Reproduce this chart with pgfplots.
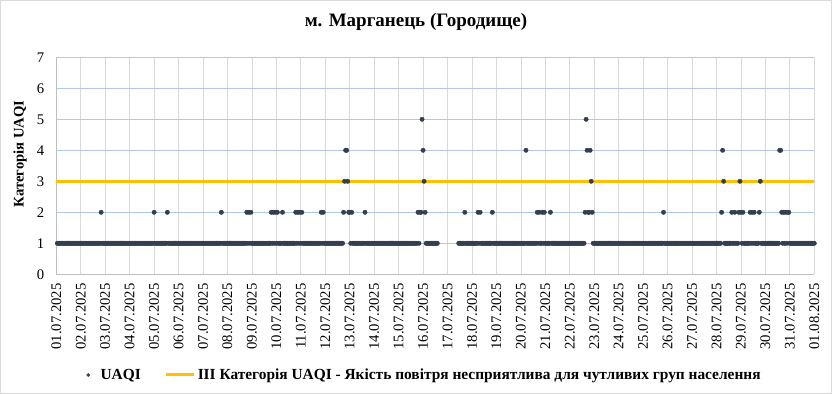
\documentclass[border=0pt]{standalone}
\usepackage{pgfplots}
\pgfplotsset{compat=1.18}
\usepackage{fontspec}
\setmainfont{Liberation Serif}
\definecolor{dotc}{HTML}{333F50}
\definecolor{linec}{HTML}{FFC000}
\definecolor{vgrid}{HTML}{D9D9D9}
\definecolor{hgrid}{HTML}{B4C7E7}
\definecolor{axc}{HTML}{BFBFBF}
\definecolor{framec}{HTML}{D9D9D9}
\newcommand\fs{\fontsize{14.67bp}{17bp}\selectfont}
\begin{document}
\begin{tikzpicture}
\path[use as bounding box, fill=white] (0,0) rectangle (832bp,394bp);
\draw[framec, line width=1bp] (0.5bp,0.5bp) rectangle (831.5bp,393.5bp);
\begin{axis}[
  at={(56.3bp,119.7bp)}, anchor=south west,
  scale only axis, width=758bp, height=217bp,
  xmin=0, xmax=744, ymin=0, ymax=7,
  clip=false,
  axis x line=bottom, axis y line=left,
  axis line style={axc, line width=0.75bp, -},
  xtick={0,24,...,744},
  xticklabels={01.07.2025,02.07.2025,03.07.2025,04.07.2025,05.07.2025,06.07.2025,07.07.2025,08.07.2025,09.07.2025,10.07.2025,11.07.2025,12.07.2025,13.07.2025,14.07.2025,15.07.2025,16.07.2025,17.07.2025,18.07.2025,19.07.2025,20.07.2025,21.07.2025,22.07.2025,23.07.2025,24.07.2025,25.07.2025,26.07.2025,27.07.2025,28.07.2025,29.07.2025,30.07.2025,31.07.2025,01.08.2025},
  ytick={0,1,...,7},
  major tick length=0pt,
  xmajorgrids, ymajorgrids,
  x grid style={vgrid, line width=0.75bp},
  y grid style={hgrid, line width=0.75bp},
  xticklabel style={rotate=90, anchor=east, font=\fs, inner sep=0pt},
  yticklabel style={anchor=east, font=\fs, inner sep=0pt},
  xticklabel shift=9bp,
  yticklabel shift=12bp,
  /pgf/number format/assume math mode=true,
  title={м. Марганець (Городище)},
  title style={at={(0.4745,1.135)}, anchor=center, font=\bfseries\fontsize{19bp}{22bp}\selectfont},
  ylabel={Категорія UAQI},
  ylabel style={at={(-0.0479,0.555)}, anchor=center, font=\bfseries\fs},
  legend style={at={(0.4858,-0.464)}, anchor=center, draw=none, fill=none, font=\bfseries\fontsize{15.4bp}{18bp}\selectfont, legend columns=2, /tikz/every even column/.append style={column sep=22bp}},
  reverse legend,
]
\addplot[linec, line width=3bp, legend image code/.code={\draw[linec, line width=3bp] (0bp,0bp) -- (28bp,0bp);}] coordinates {(0,3)(744,3)};
\addlegendentry{III Категорія UAQI - Якість повітря несприятлива для чутливих груп населення}
\addplot[only marks, mark=*, mark size=2.2bp, color=dotc, legend image code/.code={\path[draw=none, fill=none] (0bp,0bp) -- (12bp,0bp); \fill[dotc] (1.6bp,0bp) circle (1.6bp);}] coordinates {
(1,1)(2,1)(3,1)(4,1)(5,1)(6,1)(7,1)(8,1)(9,1)(10,1)(11,1)(12,1)(13,1)(14,1)(15,1)(16,1)(17,1)(18,1)(19,1)(20,1)(21,1)(22,1)(23,1)(24,1)
(25,1)(26,1)(27,1)(28,1)(29,1)(30,1)(31,1)(32,1)(33,1)(34,1)(35,1)(36,1)(37,1)(38,1)(39,1)(40,1)(41,1)(42,1)(43,1)(44,2)(45,1)(46,1)(47,1)(48,1)
(49,1)(50,1)(51,1)(52,1)(53,1)(54,1)(55,1)(56,1)(57,1)(58,1)(59,1)(60,1)(61,1)(62,1)(63,1)(64,1)(65,1)(66,1)(67,1)(68,1)(69,1)(70,1)(71,1)(72,1)
(73,1)(74,1)(75,1)(76,1)(77,1)(78,1)(79,1)(80,1)(81,1)(82,1)(83,1)(84,1)(85,1)(86,1)(87,1)(88,1)(89,1)(90,1)(91,1)(92,1)(93,1)(94,1)(95,1)(96,2)
(97,1)(98,1)(99,1)(100,1)(101,1)(102,1)(103,1)(104,1)(105,1)(106,1)(107,1)(108,1)(109,2)(110,1)(111,1)(112,1)(113,1)(114,1)(115,1)(116,1)(117,1)(118,1)(119,1)(120,1)
(121,1)(122,1)(123,1)(124,1)(125,1)(126,1)(127,1)(128,1)(129,1)(130,1)(131,1)(132,1)(133,1)(134,1)(135,1)(136,1)(137,1)(138,1)(139,1)(140,1)(141,1)(142,1)(143,1)(144,1)
(145,1)(146,1)(147,1)(148,1)(149,1)(150,1)(151,1)(152,1)(153,1)(154,1)(155,1)(156,1)(157,1)(158,1)(159,1)(160,1)(161,1)(162,2)(163,1)(164,1)(165,1)(166,1)(167,1)(168,1)
(169,1)(170,1)(171,1)(172,1)(173,1)(174,1)(175,1)(176,1)(177,1)(178,1)(179,1)(180,1)(181,1)(182,1)(183,1)(184,1)(185,1)(186,1)(187,2)(188,1)(189,2)(190,1)(191,2)(192,1)
(193,1)(194,1)(195,1)(196,1)(197,1)(198,1)(199,1)(200,1)(201,1)(202,1)(203,1)(204,1)(205,1)(206,1)(207,1)(208,1)(209,1)(210,1)(211,2)(212,1)(213,2)(214,1)(215,2)(216,1)
(217,2)(218,1)(219,1)(220,1)(221,1)(222,2)(223,1)(224,1)(225,1)(226,1)(227,1)(228,1)(229,1)(230,1)(231,1)(232,1)(233,1)(234,1)(235,2)(236,1)(237,2)(238,1)(239,2)(240,1)
(241,2)(242,1)(243,1)(244,1)(245,1)(246,1)(247,1)(248,1)(249,1)(250,1)(251,1)(252,1)(253,1)(254,1)(255,1)(256,1)(257,1)(258,1)(259,1)(260,2)(261,1)(262,2)(263,1)(264,1)
(265,1)(266,1)(267,1)(268,1)(269,1)(270,1)(271,1)(272,1)(273,1)(274,1)(275,1)(276,1)(277,1)(278,1)(279,1)(280,1)(281,1)(282,2)(283,3)(284,4)(285,4)(286,3)(287,2)(288,2)
(289,1)(290,2)(291,1)(292,1)(293,1)(294,1)(295,1)(296,1)(297,1)(298,1)(299,1)(300,1)(301,1)(302,1)(303,2)(304,1)(305,1)(306,1)(307,1)(308,1)(309,1)(310,1)(311,1)(312,1)
(313,1)(314,1)(315,1)(316,1)(317,1)(318,1)(319,1)(320,1)(321,1)(322,1)(323,1)(324,1)(325,1)(326,1)(327,1)(328,1)(329,1)(330,1)(331,1)(332,1)(333,1)(334,1)(335,1)(336,1)
(337,1)(338,1)(339,1)(340,1)(341,1)(342,1)(343,1)(344,1)(345,1)(346,1)(347,1)(348,1)(349,1)(350,1)(351,1)(352,1)(353,1)(354,1)(355,2)(356,1)(357,2)(358,2)(359,5)(360,4)
(361,3)(362,2)(363,1)(364,1)(365,1)(366,1)(367,1)(368,1)(369,1)(370,1)(371,1)(372,1)(373,1)(374,1)
(395,1)(396,1)(397,1)(398,1)(399,1)(400,1)(401,2)(402,1)(403,1)(404,1)(405,1)(406,1)(407,1)(408,1)
(409,1)(410,1)(411,1)(412,1)(413,1)(414,2)(415,1)(416,2)(417,1)(418,1)(419,1)(420,1)(421,1)(422,1)(423,1)(424,1)(425,1)(426,1)(427,1)(428,2)(429,1)(430,1)(431,1)(432,1)
(433,1)(434,1)(435,1)(436,1)(437,1)(438,1)(439,1)(440,1)(441,1)(442,1)(443,1)(444,1)(445,1)(446,1)(447,1)(448,1)(449,1)(450,1)(451,1)(452,1)(453,1)(454,1)(455,1)(456,1)
(457,1)(458,1)(459,1)(460,1)(461,4)(462,1)(463,1)(464,1)(465,1)(466,1)(467,1)(468,1)(469,1)(470,1)(471,1)(472,2)(473,1)(474,2)(475,1)(476,1)(477,2)(478,1)(479,2)(480,1)
(481,1)(482,1)(483,1)(484,1)(485,2)(486,1)(487,1)(488,1)(489,1)(490,1)(491,1)(492,1)(493,1)(494,1)(495,1)(496,1)(497,1)(498,1)(499,1)(500,1)(501,1)(502,1)(503,1)(504,1)
(505,1)(506,1)(507,1)(508,1)(509,1)(510,1)(511,1)(512,1)(513,1)(514,1)(515,1)(516,1)(517,1)(518,1)(519,2)(520,5)(521,4)(522,2)(523,2)(524,4)(525,3)(526,2)(527,1)(528,1)
(529,1)(530,1)(531,1)(532,1)(533,1)(534,1)(535,1)(536,1)(537,1)(538,1)(539,1)(540,1)(541,1)(542,1)(543,1)(544,1)(545,1)(546,1)(547,1)(548,1)(549,1)(550,1)(551,1)(552,1)
(553,1)(554,1)(555,1)(556,1)(557,1)(558,1)(559,1)(560,1)(561,1)(562,1)(563,1)(564,1)(565,1)(566,1)(567,1)(568,1)(569,1)(570,1)(571,1)(572,1)(573,1)(574,1)(575,1)(576,1)
(577,1)(578,1)(579,1)(580,1)(581,1)(582,1)(583,1)(584,1)(585,1)(586,1)(587,1)(588,1)(589,1)(590,1)(591,1)(592,1)(593,1)(594,1)(595,1)(596,2)(597,1)(598,1)(599,1)(600,1)
(601,1)(602,1)(603,1)(604,1)(605,1)(606,1)(607,1)(608,1)(609,1)(610,1)(611,1)(612,1)(613,1)(614,1)(615,1)(616,1)(617,1)(618,1)(619,1)(620,1)(621,1)(622,1)(623,1)(624,1)
(625,1)(626,1)(627,1)(628,1)(629,1)(630,1)(631,1)(632,1)(633,1)(634,1)(635,1)(636,1)(637,1)(638,1)(639,1)(640,1)(641,1)(642,1)(643,1)(644,1)(645,1)(646,1)(647,1)(648,1)
(649,1)(650,1)(651,1)(652,1)(653,2)(654,4)(655,3)(656,1)(657,1)(658,1)(659,1)(660,1)(661,1)(662,1)(663,2)(664,1)(665,1)(666,2)(667,1)(668,1)(669,1)(670,2)(671,3)(672,2)
(673,1)(674,2)(675,1)(676,1)(677,1)(678,1)(679,1)(680,1)(681,2)(682,1)(683,2)(684,1)(685,2)(686,1)(687,1)(688,1)(689,1)(690,2)(691,3)(692,1)(693,1)(694,1)(695,1)(696,1)
(697,1)(698,1)(699,1)(700,1)(701,1)(702,1)(703,1)(704,1)(705,1)(706,1)(707,1)(708,1)(709,1)(710,4)(711,4)(712,2)(713,1)(714,2)(715,1)(716,2)(717,1)(718,2)(719,2)(720,1)
(721,1)(722,1)(723,1)(724,1)(725,1)(726,1)(727,1)(728,1)(729,1)(730,1)(731,1)(732,1)(733,1)(734,1)(735,1)(736,1)(737,1)(738,1)(739,1)(740,1)(741,1)(742,1)(743,1)(744,1)
};
\addlegendentry{UAQI}
\end{axis}
\end{tikzpicture}
\end{document}
